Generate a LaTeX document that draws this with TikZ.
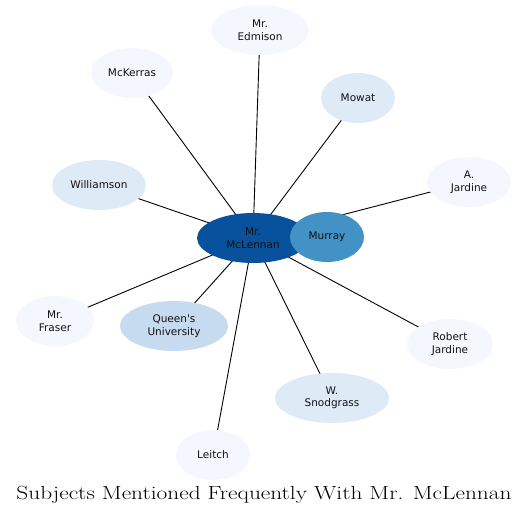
\documentclass[tikz,border=0pt]{standalone}
\usepackage{fontspec}
\usepackage{graphicx}
\newfontfamily\nodefont{DejaVu Sans}
\usetikzlibrary{shapes.geometric,backgrounds}
\definecolor{cdark}{HTML}{08519C}
\definecolor{cmid}{HTML}{4292C6}
\definecolor{clight}{HTML}{C6DBEF}
\definecolor{cpale}{HTML}{DEEBF7}
\definecolor{cwhite}{HTML}{F4F8FE}
\definecolor{ctext}{HTML}{111111}
\tikzset{
  ent/.style={ellipse, inner sep=0pt, minimum height=50pt, align=center,
    text=ctext, font=\nodefont\fontsize{10.5}{12.5}\selectfont},
  link/.style={draw=black, line width=0.9pt}
}
\begin{document}
\begin{tikzpicture}[x=1pt,y=-1pt]
\useasboundingbox (0,0) rectangle (528,515);
\node[ent, fill=cdark, minimum width=112pt] (mcl) at (253,238) {Mr.\\McLennan};
\node[ent, fill=cmid, minimum width=74pt] (murray) at (327,237) {Murray};
\node[ent, fill=cwhite, minimum width=98pt] (edm) at (260,30) {Mr.\\Edmison};
\node[ent, fill=cwhite, minimum width=82pt] (mck) at (132,73) {McKerras};
\node[ent, fill=cpale, minimum width=74pt] (mow) at (358,98) {Mowat};
\node[ent, fill=cwhite, minimum width=84pt] (ajar) at (469,182) {A.\\Jardine};
\node[ent, fill=cpale, minimum width=94pt] (wil) at (99,185) {Williamson};
\node[ent, fill=cwhite, minimum width=78pt] (fra) at (55,321) {Mr.\\Fraser};
\node[ent, fill=clight, minimum width=108pt] (que) at (174,326) {Queen's\\University};
\node[ent, fill=cwhite, minimum width=86pt] (rjar) at (450,344) {Robert\\Jardine};
\node[ent, fill=cpale, minimum width=114pt] (sno) at (332,398) {W.\\Snodgrass};
\node[ent, fill=cwhite, minimum width=74pt] (lei) at (213,455) {Leitch};
\begin{scope}[on background layer]
\foreach \n in {murray,edm,mck,mow,ajar,wil,fra,que,rjar,sno,lei}
  \draw[link] (mcl.center) -- (\n.center);
\end{scope}
\node[font=\fontsize{19}{23}\selectfont, anchor=base] (title) at (264,499) {\scalebox{1.228}[1]{Subjects Mentioned Frequently With Mr. McLennan}};
\end{tikzpicture}
\end{document}
